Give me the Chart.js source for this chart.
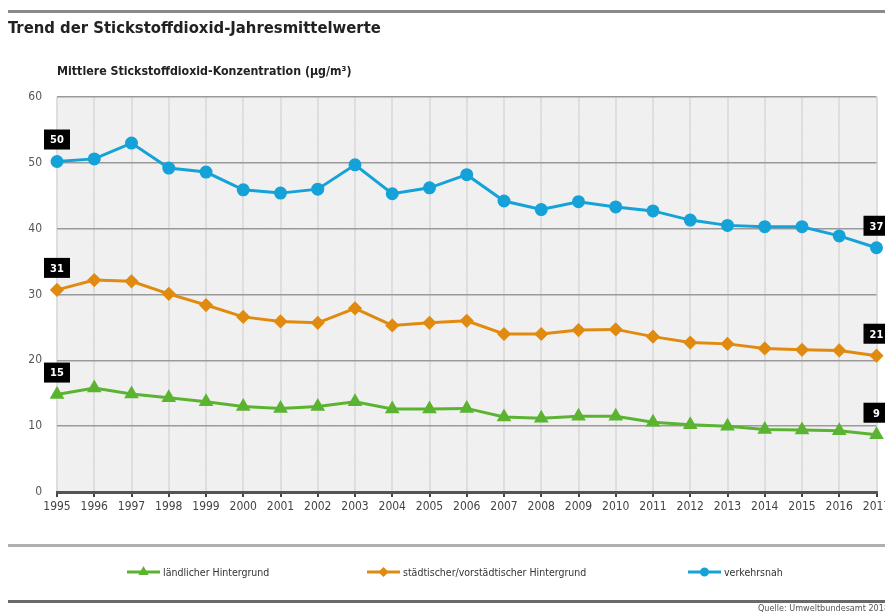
<!DOCTYPE html>
<html><head><meta charset="utf-8">
<script src="https://cdn.jsdelivr.net/npm/chart.js@4"></script>
<style>
html,body{margin:0;padding:0;background:#fff;overflow:hidden;}
#wrap{position:relative;width:885px;height:614px;}
canvas{position:absolute;left:0;top:0;}
</style></head>
<body><div id="wrap"><canvas id="c" width="885" height="614"></canvas></div>
<script>
const years = ['1995','1996','1997','1998','1999','2000','2001','2002','2003','2004','2005','2006','2007','2008','2009','2010','2011','2012','2013','2014','2015','2016','2017'];
const verkehrsnah = [50.2,50.6,53.0,49.2,48.6,45.9,45.4,46.0,49.7,45.3,46.2,48.2,44.2,42.9,44.1,43.3,42.7,41.3,40.5,40.3,40.3,38.9,37.1];
const staedtisch = [30.7,32.2,32.0,30.1,28.4,26.6,25.9,25.7,27.9,25.3,25.7,26.0,24.0,24.0,24.6,24.7,23.6,22.7,22.5,21.8,21.6,21.5,20.7];
const laendlich = [14.8,15.8,14.9,14.3,13.7,13.0,12.7,13.0,13.7,12.6,12.6,12.7,11.4,11.2,11.5,11.5,10.6,10.2,10.0,9.5,9.4,9.3,8.7];
const yTicks = [0,10,20,30,40,50,60];
const seriesNames = ['ländlicher Hintergrund','städtischer/vorstädtischer Hintergrund','verkehrsnah'];
const titleText = 'Trend der Stickstoffdioxid-Jahresmittelwerte';
const axisTitle = 'Mittlere Stickstoffdioxid-Konzentration (µg/m³)';
const sourceText = 'Quelle: Umweltbundesamt 2018';

const FONT = '"Liberation Sans Narrow","DejaVu Sans Condensed",sans-serif';
const GREEN='#5bb431', ORANGE='#e08b10', BLUE='#14a2d8';

const decor = {
  id:'decor',
  beforeDraw(chart){
    const {ctx, chartArea:a} = chart;
    ctx.save();
    ctx.fillStyle='#f2f2f2';
    ctx.fillRect(a.left,a.top,a.right-a.left,a.bottom-a.top);
    ctx.beginPath();
    ctx.rect(a.left,a.top,a.right-a.left,a.bottom-a.top);
    ctx.clip();
    ctx.strokeStyle='rgba(0,0,0,0.025)';
    ctx.lineWidth=1;
    for(let x=a.left-600;x<a.right+10;x+=3){
      ctx.beginPath();ctx.moveTo(x,a.bottom);ctx.lineTo(x+(a.bottom-a.top),a.top);ctx.stroke();
    }
    ctx.restore();
    ctx.save();
    ctx.fillStyle='#8a8a8a';
    ctx.fillRect(8,10,877,3);
    ctx.fillStyle='#222';
    ctx.font='bold 16.5px '+FONT;
    ctx.textBaseline='middle';
    ctx.fillText(titleText,8,29);
    ctx.font='bold 12.3px '+FONT;
    ctx.fillText(axisTitle,57,72);
    ctx.restore();
  },
  afterDatasetsDraw(chart){
    const {ctx} = chart;
    ctx.save();
    chart.data.datasets.forEach((ds,i)=>{
      const meta=chart.getDatasetMeta(i);
      [0, ds.data.length-1].forEach(idx=>{
        const pt=meta.data[idx];
        const txt=String(Math.round(ds.data[idx]));
        ctx.font='bold 11px '+FONT;
        const w=Math.max(26, ctx.measureText(txt).width+12);
        const h=20;
        const cx=pt.x, cy=pt.y-22;
        ctx.fillStyle='#000';
        ctx.fillRect(cx-w/2,cy-h/2,w,h);
        ctx.fillStyle='#fff';
        ctx.textAlign='center';ctx.textBaseline='middle';
        ctx.fillText(txt,cx,cy+1);
      });
    });
    ctx.restore();
  },
  afterDraw(chart){
    const {ctx} = chart;
    ctx.save();
    ctx.fillStyle='#b0b0b0';
    ctx.fillRect(8,544,877,3);
    ctx.fillStyle='#6a6a6a';
    ctx.fillRect(8,600,877,3);
    const items=[{x:127,ds:2},{x:367,ds:1},{x:688,ds:0}];
    items.forEach(it=>{
      const ds=chart.data.datasets[it.ds];
      const y=572;
      ctx.strokeStyle=ds.borderColor;ctx.lineWidth=3;
      ctx.beginPath();ctx.moveTo(it.x,y);ctx.lineTo(it.x+33,y);ctx.stroke();
      ctx.fillStyle=ds.borderColor;ctx.strokeStyle=ds.borderColor;
      Chart.helpers.drawPoint(ctx,{pointStyle:ds.pointStyle,radius:3,rotation:0,borderWidth:1},it.x+16.5,y);
      ctx.fillStyle='#333';
      ctx.font='10.5px '+FONT;
      ctx.textBaseline='middle';ctx.textAlign='left';
      ctx.fillText(ds.label,it.x+36,y+1);
    });
    ctx.fillStyle='#555';
    ctx.font='9px '+FONT;
    ctx.textAlign='left';ctx.textBaseline='middle';
    ctx.fillText(sourceText,758,609);
    ctx.restore();
  }
};

function mk(label,data,color,style,r){
  return {label,data,borderColor:color,backgroundColor:color,pointBackgroundColor:color,pointBorderColor:color,
    pointStyle:style,pointRadius:r,pointHoverRadius:r,borderWidth:3,tension:0,clip:false};
}

new Chart(document.getElementById('c'),{
  type:'line',
  data:{labels:years,datasets:[
    mk(seriesNames[2],verkehrsnah,BLUE,'circle',5),
    mk(seriesNames[1],staedtisch,ORANGE,'rectRot',5),
    mk(seriesNames[0],laendlich,GREEN,'triangle',5.5)
  ]},
  options:{
    responsive:false,animation:false,devicePixelRatio:1,
    layout:{padding:{left:0,top:97,right:8,bottom:97}},
    plugins:{legend:{display:false},tooltip:{enabled:false}},
    scales:{
      x:{
        offset:false,
        afterFit(s){s.height=25;s.paddingLeft=0;s.paddingRight=0;},
        grid:{color:'#dedede',lineWidth:2,drawTicks:true,tickLength:5,tickColor:'#444',tickWidth:2},
        border:{display:true,color:'#555',width:3},
        ticks:{color:'#444',font:{family:FONT,size:12},maxRotation:0,autoSkip:false,padding:3}
      },
      y:{
        min:0,max:60,
        afterFit(s){s.width=57;s.paddingTop=0;s.paddingBottom=0;},
        afterBuildTicks(s){s.ticks=yTicks.map(v=>({value:v}));},
        grid:{color:'#9a9a9a',lineWidth:1.5,drawTicks:false},
        border:{display:false},
        ticks:{color:'#555',font:{family:FONT,size:12},padding:15}
      }
    }
  },
  plugins:[decor]
});
</script></body></html>
